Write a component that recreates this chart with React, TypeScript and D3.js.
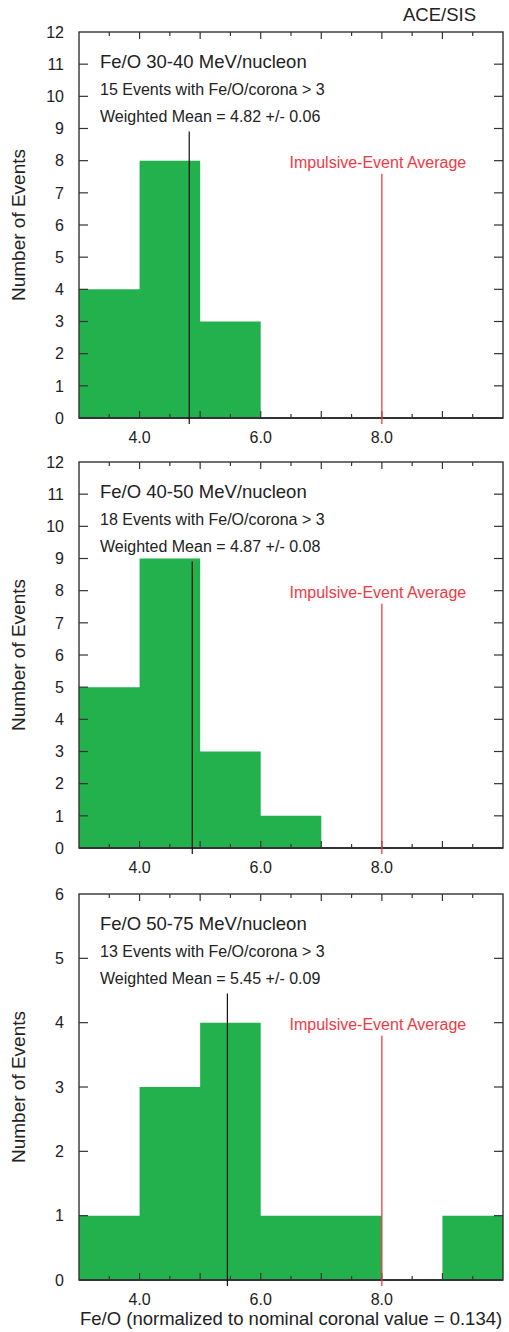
import React from "react";
import * as d3 from "d3";

// Fe/O histograms in three energy bands (bin width 1.0, starting at 3.0)
const binStarts = [3, 4, 5, 6, 7, 8, 9];
const counts3040 = [4, 8, 3, 0, 0, 0, 0];
const counts4050 = [5, 9, 3, 1, 0, 0, 0];
const counts5075 = [1, 3, 4, 1, 1, 0, 1];

const panelTitles = ["Fe/O 30-40 MeV/nucleon", "Fe/O 40-50 MeV/nucleon", "Fe/O 50-75 MeV/nucleon"];
const eventCounts = [15, 18, 13];
const weightedMeans = [4.82, 4.87, 5.45];
const meanErrors = ["0.06", "0.08", "0.09"];
const yMaxes = [12, 12, 6];
const impulsiveAverage = 8.0;
const xTickLabels = [4, 6, 8];

const W = 509;
const H = 1332;
const LEFT = 79;
const RIGHT = 503;
const PANEL_TOPS = [32, 462, 894];
const PANEL_H = 386;
const FONT = "'Liberation Sans', Arial, Helvetica, sans-serif";
const GREEN = "#23b14d";
const RED = "#ee3a45";
const INK = "#222";

const x = d3.scaleLinear().domain([3, 10]).range([LEFT, RIGHT]);

function Panel({ idx, counts }: { idx: number; counts: number[] }) {
  const top = PANEL_TOPS[idx];
  const bottom = top + PANEL_H;
  const yMax = yMaxes[idx];
  const y = d3.scaleLinear().domain([0, yMax]).range([bottom, top]);
  const yTicks = d3.range(0, yMax + 1);
  const xMinor = d3.range(3.5, 10, 0.5);
  const meanTop = y(yMax * 0.742);
  const redTop = y(yMax * 0.633);

  // all bars in one path so adjacent bins join without seams
  const barPath = d3.path();
  binStarts.forEach((b, i) => {
    if (counts[i] > 0) {
      barPath.rect(x(b), y(counts[i]), x(b + 1) - x(b), bottom - y(counts[i]));
    }
  });

  return (
    <g>
      <path d={barPath.toString()} fill={GREEN} />
      {/* frame */}
      <rect x={LEFT} y={top} width={RIGHT - LEFT} height={PANEL_H} fill="none" stroke="#333" strokeWidth={1.4} />
      <line x1={LEFT} x2={RIGHT} y1={bottom} y2={bottom} stroke="#333" strokeWidth={2} />
      {/* x ticks, top and bottom, pointing inward */}
      {xMinor.map((v, i) => {
        const major = Number.isInteger(v);
        const len = major ? 7 : 4;
        return (
          <g key={i} stroke="#333" strokeWidth={1.2}>
            <line x1={x(v)} x2={x(v)} y1={bottom} y2={bottom - len} />
            <line x1={x(v)} x2={x(v)} y1={top} y2={top + len} />
          </g>
        );
      })}
      {/* y ticks, both sides */}
      {yTicks.map((v) => (
        <g key={v}>
          {v > 0 && v < yMax ? (
            <g stroke="#333" strokeWidth={1.2}>
              <line x1={LEFT} x2={LEFT + 9} y1={y(v)} y2={y(v)} />
              <line x1={RIGHT} x2={RIGHT - 9} y1={y(v)} y2={y(v)} />
            </g>
          ) : null}
          <text x={64} y={y(v) + 5.8} textAnchor="end" fontSize={16} fill={INK} fontFamily={FONT}>
            {v}
          </text>
        </g>
      ))}
      {xTickLabels.map((v) => (
        <text key={v} x={x(v)} y={bottom + 24.5} textAnchor="middle" fontSize={16} fill={INK} fontFamily={FONT}>
          {v.toFixed(1)}
        </text>
      ))}
      {/* weighted mean marker */}
      <line x1={x(weightedMeans[idx])} x2={x(weightedMeans[idx])} y1={meanTop} y2={bottom + 6} stroke="#111" strokeWidth={1.2} />
      {/* impulsive-event average marker */}
      <line x1={x(impulsiveAverage)} x2={x(impulsiveAverage)} y1={redTop} y2={bottom + 6} stroke={RED} strokeWidth={1.3} />
      <text x={x(impulsiveAverage) - 4} y={redTop - 5.5} textAnchor="middle" fontSize={16} fill={RED} fontFamily={FONT}>
        Impulsive-Event Average
      </text>
      {/* annotations */}
      <text x={100} y={top + 35.6} fontSize={18.5} fill={INK} fontFamily={FONT}>
        {panelTitles[idx]}
      </text>
      <text x={100} y={top + 62.7} fontSize={16} fill={INK} fontFamily={FONT}>
        {`${eventCounts[idx]} Events with Fe/O/corona > 3`}
      </text>
      <text x={100} y={top + 89.7} fontSize={16} fill={INK} fontFamily={FONT}>
        {`Weighted Mean = ${weightedMeans[idx].toFixed(2)} +/- ${meanErrors[idx]}`}
      </text>
      {/* y axis title */}
      <text
        x={25}
        y={top + PANEL_H / 2}
        transform={`rotate(-90, 25, ${top + PANEL_H / 2})`}
        textAnchor="middle"
        fontSize={19}
        fill={INK}
        fontFamily={FONT}
      >
        Number of Events
      </text>
    </g>
  );
}

export default function App() {
  const allCounts = [counts3040, counts4050, counts5075];
  return (
    <svg
      width={W}
      height={H}
      viewBox={`0 0 ${W} ${H}`}
      style={{ position: "absolute", left: 0, top: 0, display: "block", background: "#fff" }}
    >
      <rect x={0} y={0} width={W} height={H} fill="#fff" />
      <text x={403} y={20.6} fontSize={18.5} fill={INK} fontFamily={FONT}>
        ACE/SIS
      </text>
      {allCounts.map((c, i) => (
        <Panel key={i} idx={i} counts={c} />
      ))}
      <text x={80} y={1324.6} fontSize={18.5} fill={INK} fontFamily={FONT}>
        Fe/O (normalized to nominal coronal value = 0.134)
      </text>
    </svg>
  );
}
